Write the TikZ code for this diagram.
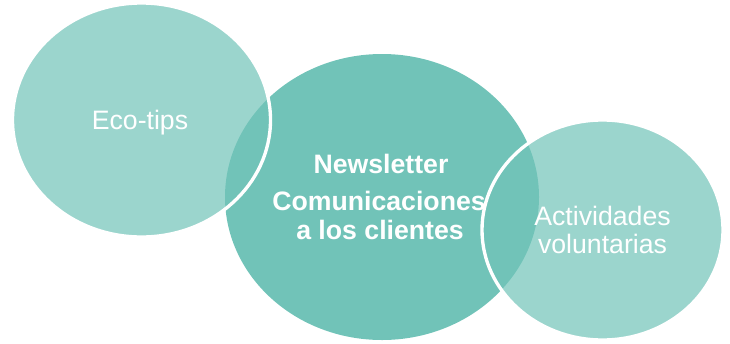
\documentclass[tikz,border=0pt]{standalone}
\usepackage{fontspec}
\setmainfont{Liberation Sans}
\usepackage{tikz}
\usetikzlibrary{positioning}
\definecolor{bubbleteal}{HTML}{71C3B8}
\tikzstyle{bubble}=[fill=bubbleteal, fill opacity=0.7, draw=white, line width=2.5pt]
\tikzstyle{lbl}=[text=white, inner sep=0pt, anchor=base, font=\fontsize{20}{22}\selectfont]
\tikzstyle{blbl}=[lbl, font=\fontsize{20}{22}\selectfont\bfseries]

\begin{document}
\begin{tikzpicture}[x=0.75pt, y=-0.75pt]
\useasboundingbox (0,0) rectangle (730,343);
% the middle bubble
\fill[bubbleteal] (382,197) ellipse [x radius=157, y radius=143];
% the two outer bubbles
\filldraw[bubble] (141.5,120) ellipse [x radius=129, y radius=117];
\filldraw[bubble] (602.5,230) ellipse [x radius=120.5, y radius=110];
% the labels
\node[lbl] (eco) at (140,129) {Eco-tips};
\node[blbl] (news) at (381,173) {Newsletter};
\node[blbl] (comm) at (379,210) {Comunicaciones};
\node[blbl] (clients) at (380,239) {a los clientes};
\node[lbl] (act) at (602.5,225) {Actividades};
\node[lbl] (vol) at (602.5,253) {voluntarias};
\end{tikzpicture}
\end{document}
